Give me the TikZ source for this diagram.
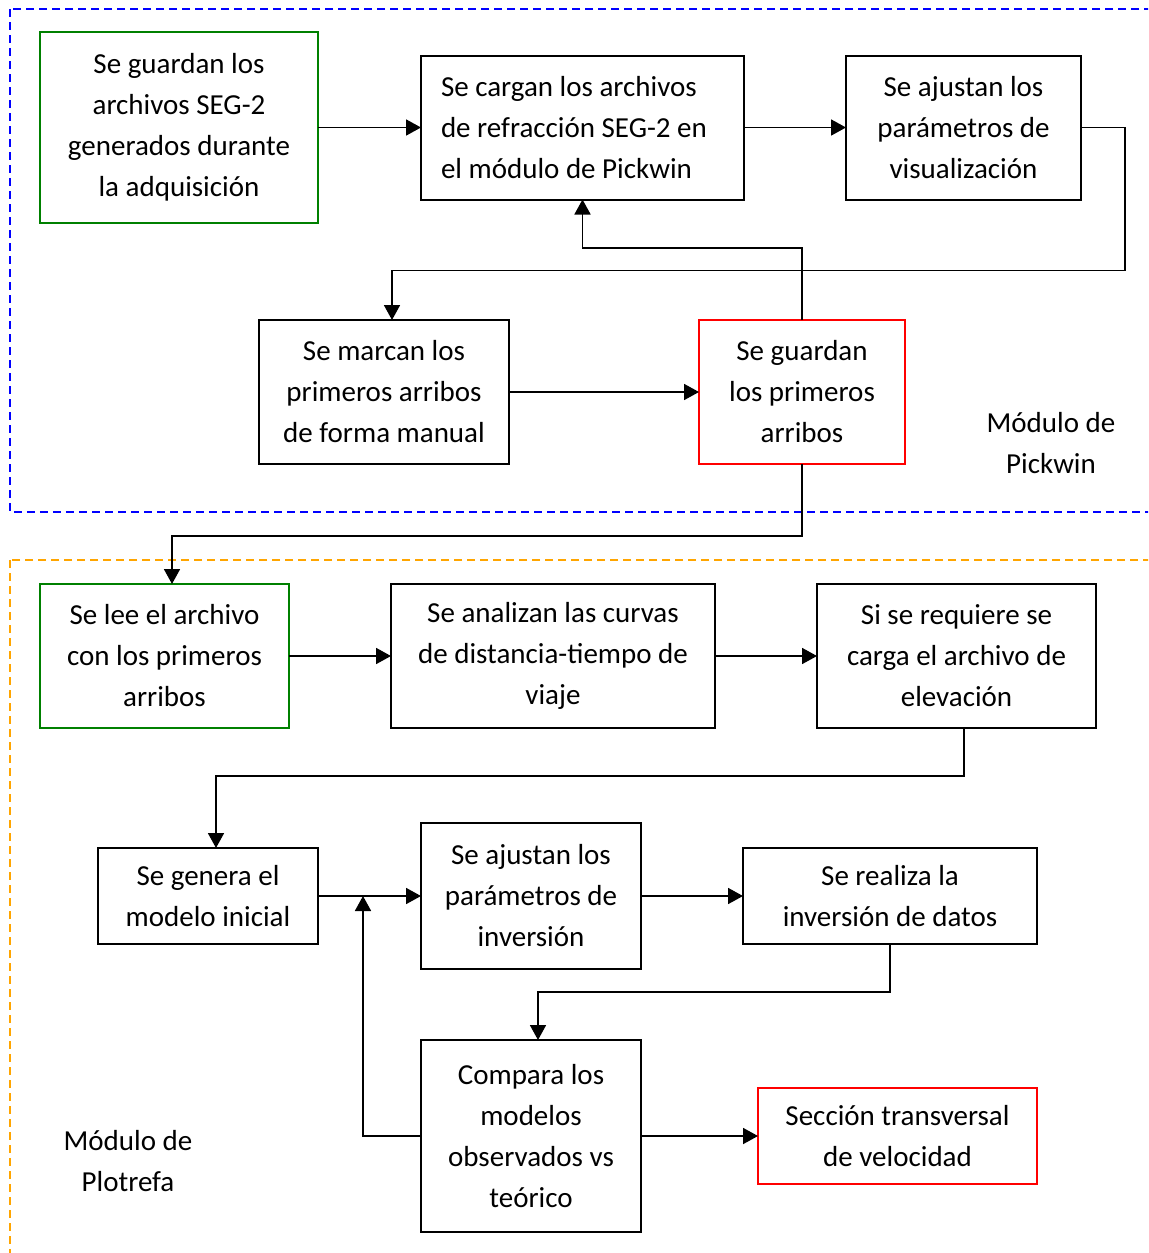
\documentclass[tikz,border=0pt]{standalone}
\usepackage{fontspec}
\setmainfont{Carlito}
\usepackage{tikz}
\usetikzlibrary{arrows.meta, positioning}
\usepackage{xcolor}
\definecolor{pickblue}{RGB}{0, 0, 255}
\definecolor{plotorange}{RGB}{255, 165, 0}
\definecolor{startgreen}{RGB}{0, 128, 0}
\definecolor{endred}{RGB}{255, 0, 0}

\begin{document}
\begin{tikzpicture}[
    x=0.5pt, y=-0.5pt,
    box/.style={rectangle, draw, line width=1pt, align=center, inner sep=2pt, outer sep=0pt,
        font=\fontsize{14.5}{20.5}\selectfont},
    arrow/.style={-{Triangle[length=7.5pt,width=8pt]}, line width=0.9pt},
    module/.style={dashed, dash pattern=on 4pt off 2.5pt, line width=1pt},
    modlabel/.style={align=center, font=\fontsize{14.5}{20.5}\selectfont}
]
\clip (0,0) rectangle (1148,1253);

% module frames
\draw[module, pickblue] (10,9) rectangle (1170,512);
\draw[module, plotorange] (10,560) rectangle (1170,1290);

% Pickwin
\node[box, draw=startgreen, minimum width=139pt, minimum height=95.5pt] (guarda) at (179,127.5)
    {Se guardan los\\archivos SEG-2\\generados durante\\la adquisición};
\node[box, align=flush left, text width=141.5pt, inner xsep=10pt, minimum height=72pt, right=51.5pt of guarda] (carga)
    {Se cargan los archivos\\de refracción SEG-2 en\\el módulo de Pickwin};
\node[box, minimum width=117.5pt, minimum height=72pt, right=51pt of carga] (ajusta)
    {Se ajustan los\\parámetros de\\visualización};
\node[box, minimum width=125pt, minimum height=72pt] (marca) at (384,392)
    {Se marcan los\\primeros arribos\\de forma manual};
\node[box, draw=endred, minimum width=103pt, minimum height=72pt, right=95pt of marca] (arribos)
    {Se guardan\\los primeros\\arribos};
\node[modlabel] (pickwin) at (1051,443.5) {Módulo de\\Pickwin};

% Plotrefa
\node[box, draw=startgreen, minimum width=124.5pt, minimum height=72pt] (lee) at (164.5,656)
    {Se lee el archivo\\con los primeros\\arribos};
\node[box, minimum width=162pt, minimum height=72pt, right=51pt of lee] (curvas)
    {Se analizan las curvas\\de distancia-tiempo de\\viaje};
\node[box, minimum width=139.5pt, minimum height=72pt, right=51pt of curvas] (elev)
    {Si se requiere se\\carga el archivo de\\elevación};
\node[box, minimum width=110pt, minimum height=48pt] (modelo) at (208,896)
    {Se genera el\\modelo inicial};
\node[box, minimum width=110pt, minimum height=73pt, right=51.5pt of modelo] (param)
    {Se ajustan los\\parámetros de\\inversión};
\node[box, minimum width=147pt, minimum height=48pt, right=51pt of param] (invers)
    {Se realiza la\\inversión de datos};
\node[box, minimum width=110pt, minimum height=96pt] (compara) at (531,1136)
    {Compara los\\modelos\\observados vs\\teórico};
\node[box, draw=endred, minimum width=139.5pt, minimum height=48pt, right=58.5pt of compara] (seccion)
    {Sección transversal\\de velocidad};
\node[modlabel] (plotrefa) at (128,1161.5) {Módulo de\\Plotrefa};

\coordinate (junta) at (363,896);

\draw[arrow] (guarda) -- (carga);
\draw[arrow] (carga) -- (ajusta);
\draw[arrow] (ajusta.east) -- ++(44,0) -- ++(0,143) -| ([xshift=4pt]marca.north);
\draw[arrow] (marca) -- (arribos);
\draw[arrow] (arribos.north) -- ++(0,-72) -| (carga.south);
\draw[arrow] (arribos.south) -- ++(0,72) -| ([xshift=3.75pt]lee.north);

\draw[arrow] (lee) -- (curvas);
\draw[arrow] (curvas) -- (elev);
\draw[arrow] ([xshift=3.75pt]elev.south) -- ++(0,48) -| ([xshift=4pt]modelo.north);
\draw[arrow] (modelo) -- (param);
\draw[arrow] (param) -- (invers);
\draw[arrow] (invers.south) -- ++(0,48) -| ([xshift=3.5pt]compara.north);
\draw[arrow] (compara.west) -| (junta);
\draw[arrow] (compara) -- (seccion);

\end{tikzpicture}
\end{document}
